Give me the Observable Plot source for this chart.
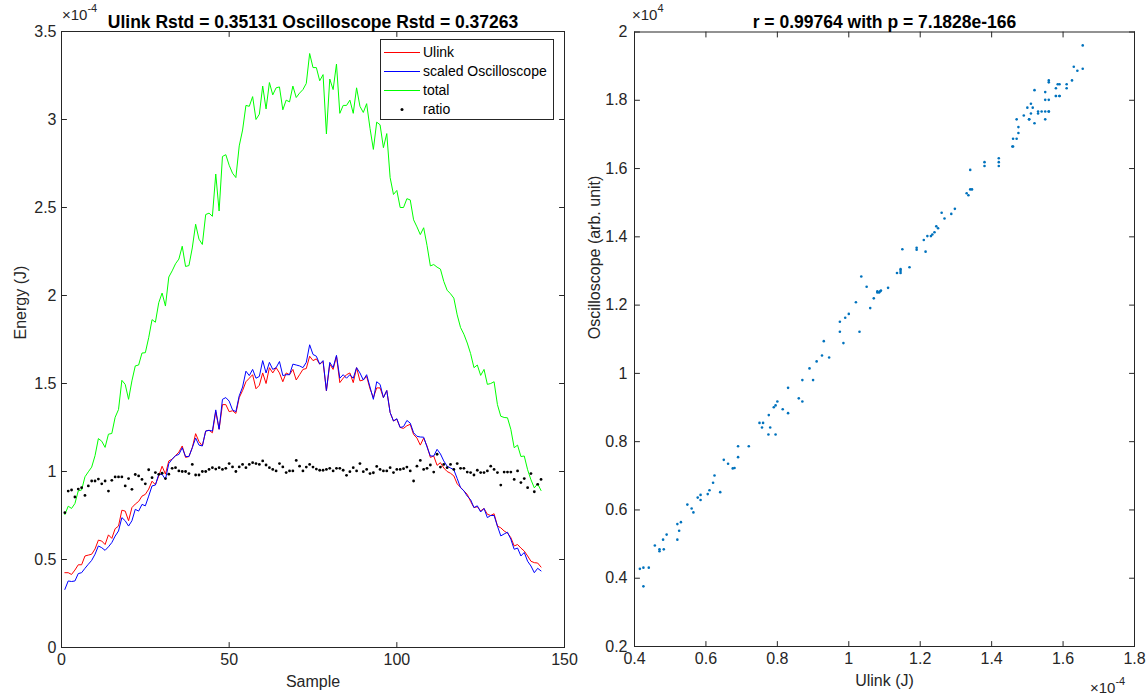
<!DOCTYPE html>
<html>
<head>
<meta charset="utf-8">
<script src="https://cdn.jsdelivr.net/npm/d3@7"></script>
<script src="https://cdn.jsdelivr.net/npm/@observablehq/plot@0.6"></script>
<style>
  body { margin: 0; background: #fff; }
  #wrap { position: relative; width: 1148px; height: 698px; background: #fff; font-family: "Liberation Sans", Arial, sans-serif; }
  #left { position: absolute; left: 0; top: 0; z-index: 2; }
  #right { position: absolute; left: 574px; top: 0; z-index: 1; }
  #legend { position: absolute; z-index: 3; left: 380px; top: 39px; width: 172px; height: 79px; border: 1px solid #262626; background: #fff; font-size: 14px; color: #000; }
  .lrow { position: absolute; left: 0; height: 19px; width: 170px; }
  .lrow svg { position: absolute; left: 2px; top: 0; }
  .lrow span { position: absolute; left: 42px; top: 1px; line-height: 17px; white-space: nowrap; }
  .exp { position: absolute; z-index: 3; font-size: 15px; line-height: 16px; color: #262626; white-space: nowrap; }
  .exp sup { font-size: 11px; position: relative; top: -2px; vertical-align: super; line-height: 0; }
</style>
</head>
<body>
<div id="wrap">
  <div id="left"></div>
  <div id="right"></div>
  <div id="legend"></div>
</div>
<script>
// ---------------- data (energies in units of 1e-4 J, oscilloscope in units of 1e4) ----------------
const ulink = [
0.425,0.425,0.415,0.44,0.47,0.47,0.52,0.525,0.53,0.56,
0.61,0.605,0.585,0.64,0.62,0.675,0.69,0.78,0.775,0.72,
0.795,0.815,0.83,0.86,0.87,0.90,0.945,0.925,0.975,1.03,
0.985,1.06,1.07,1.09,1.11,1.145,1.08,1.085,1.135,1.215,
1.17,1.145,1.23,1.234,1.22,1.34,1.24,1.38,1.38,1.34,
1.345,1.33,1.42,1.46,1.51,1.53,1.55,1.47,1.49,1.56,
1.50,1.59,1.56,1.59,1.56,1.51,1.56,1.55,1.58,1.52,
1.55,1.58,1.585,1.655,1.63,1.64,1.61,1.625,1.458,1.61,
1.58,1.655,1.505,1.53,1.55,1.56,1.505,1.59,1.515,1.52,
1.54,1.47,1.42,1.475,1.475,1.42,1.46,1.335,1.287,1.297,
1.25,1.245,1.26,1.268,1.21,1.19,1.15,1.19,1.145,1.08,
1.088,1.035,1.05,1.02,1.00,0.99,0.975,0.93,0.91,0.89,
0.87,0.83,0.795,0.80,0.776,0.79,0.757,0.75,0.76,0.69,
0.68,0.662,0.65,0.624,0.577,0.585,0.565,0.548,0.52,0.49,
0.482,0.48,0.457];

const scaledScope = [
0.33,0.378,0.375,0.378,0.42,0.425,0.45,0.473,0.495,0.53,
0.577,0.567,0.552,0.572,0.596,0.633,0.662,0.738,0.72,0.69,
0.72,0.785,0.775,0.813,0.805,0.86,0.918,0.923,0.984,0.984,
0.955,1.045,1.07,1.09,1.097,1.135,1.085,1.085,1.135,1.19,
1.15,1.145,1.23,1.234,1.23,1.35,1.24,1.41,1.42,1.40,
1.35,1.34,1.43,1.48,1.57,1.545,1.58,1.53,1.54,1.63,
1.56,1.62,1.58,1.59,1.625,1.545,1.55,1.55,1.61,1.605,
1.60,1.59,1.62,1.72,1.665,1.655,1.61,1.63,1.46,1.62,
1.59,1.66,1.53,1.55,1.53,1.55,1.53,1.59,1.56,1.52,
1.55,1.48,1.41,1.51,1.495,1.42,1.46,1.335,1.287,1.30,
1.25,1.255,1.29,1.275,1.22,1.20,1.196,1.195,1.14,1.088,
1.088,1.126,1.10,1.06,1.03,1.02,1.01,0.96,0.908,0.89,
0.86,0.84,0.795,0.805,0.77,0.79,0.738,0.75,0.75,0.69,
0.634,0.645,0.655,0.615,0.558,0.565,0.52,0.54,0.49,0.463,
0.425,0.45,0.435];

const total = [
0.755,0.803,0.79,0.818,0.89,0.895,0.97,0.998,1.025,1.09,
1.187,1.172,1.137,1.212,1.216,1.308,1.352,1.518,1.495,1.41,
1.515,1.60,1.605,1.673,1.675,1.76,1.863,1.848,1.959,2.014,
1.94,2.105,2.14,2.18,2.207,2.28,2.165,2.17,2.27,2.405,
2.32,2.29,2.46,2.468,2.45,2.69,2.48,2.79,2.80,2.74,
2.695,2.67,2.85,2.94,3.08,3.075,3.13,3.00,3.03,3.19,
3.06,3.21,3.14,3.18,3.185,3.055,3.11,3.10,3.19,3.125,
3.15,3.17,3.205,3.375,3.295,3.295,3.22,3.255,2.918,3.23,
3.17,3.315,3.035,3.08,3.08,3.11,3.035,3.18,3.075,3.04,
3.09,2.95,2.83,2.985,2.97,2.84,2.92,2.67,2.574,2.597,
2.50,2.50,2.55,2.543,2.43,2.39,2.346,2.385,2.285,2.168,
2.176,2.161,2.15,2.08,2.03,2.01,1.985,1.89,1.818,1.78,
1.73,1.67,1.59,1.605,1.546,1.58,1.495,1.50,1.51,1.38,
1.314,1.307,1.305,1.239,1.135,1.15,1.085,1.088,1.01,0.953,
0.907,0.93,0.892];

const ratio = [
0.766,0.889,0.895,0.855,0.90,0.908,0.864,0.918,0.946,0.946,
0.957,0.93,0.946,0.889,0.95,0.969,0.969,0.969,0.918,0.96,
0.899,0.983,0.975,0.955,0.93,1.01,0.965,0.994,0.984,0.99,
0.96,0.985,1.018,1.022,1.003,1.0,1.0,0.988,1.04,0.98,
0.98,1.0,1.0,1.012,1.022,1.014,1.022,1.012,1.018,1.045,
1.026,1.0,1.026,1.04,1.022,1.04,1.05,1.045,1.04,1.06,
1.037,1.022,1.012,1.003,1.045,1.026,0.994,1.003,1.003,1.063,
1.03,1.003,1.025,1.04,1.025,1.014,1.007,1.007,1.012,1.018,
1.003,1.018,1.018,1.007,0.978,0.999,1.022,1.003,1.045,0.999,
1.012,0.988,0.993,1.029,1.012,1.003,1.003,1.022,0.994,1.012,
1.012,1.016,1.025,1.003,0.946,1.03,1.063,1.012,1.018,1.037,
0.997,1.098,1.025,1.04,1.022,1.04,1.012,1.045,1.018,1.018,
0.997,0.994,0.98,1.007,0.994,0.994,1.003,1.03,1.012,0.994,
0.923,0.997,0.997,0.997,0.955,1.003,0.937,0.96,0.908,0.988,
0.885,0.927,0.955];

const oscScale = 1.14; // oscilloscope (1e4 arb. unit) per scaled unit

const seriesNames = ["Ulink", "scaled Oscilloscope", "total", "ratio"];
const seriesColors = ["#FF0000", "#0000FF", "#00FF00", "#000000"];

const leftTitle = "Ulink Rstd = 0.35131 Oscilloscope Rstd = 0.37263";
const rightTitle = "r = 0.99764 with p = 7.1828e-166";
const leftXLabel = "Sample", leftYLabel = "Energy (J)";
const rightXLabel = "Ulink (J)", rightYLabel = "Oscilloscope (arb. unit)";
const expLabels = [
  { base: "\u00d710", power: "-4", left: 62, top: 7 },     // left axes, y
  { base: "\u00d710", power: "4", left: 632, top: 7 },     // right axes, y
  { base: "\u00d710", power: "-4", left: 1090, top: 680 }  // right axes, x
];

const leftXTicks = [0, 50, 100, 150];
const leftYTicks = [0, 0.5, 1, 1.5, 2, 2.5, 3, 3.5];
const leftXTickLabels = ["0", "50", "100", "150"];
const leftYTickLabels = ["0", "0.5", "1", "1.5", "2", "2.5", "3", "3.5"];
const rightXTicks = [0.4, 0.6, 0.8, 1.0, 1.2, 1.4, 1.6, 1.8];
const rightXTickLabels = ["0.4", "0.6", "0.8", "1", "1.2", "1.4", "1.6", "1.8"];
const rightYTicks = [0.2, 0.4, 0.6, 0.8, 1.0, 1.2, 1.4, 1.6, 1.8, 2.0];
const rightYTickLabels = ["0.2", "0.4", "0.6", "0.8", "1", "1.2", "1.4", "1.6", "1.8", "2"];

// ---------------- build ----------------
const rows = ulink.map((u, i) => ({
  sample: i + 1, ulink: u, scope: scaledScope[i], total: total[i], ratio: ratio[i]
}));
const points = ulink.map((u, i) => ({ u, osc: scaledScope[i] * oscScale }));

const axisColor = "#262626";
const font = "'Liberation Sans', Arial, Helvetica, sans-serif";
const tickShape = { draw(ctx, l) { ctx.moveTo(0, 0); ctx.lineTo(0, -l); } };

function inwardTicks(xt, yt) {
  const o = { length: 5, anchor: "start", shape: tickShape, stroke: axisColor, strokeWidth: 1 };
  return [
    Plot.vector(xt, { x: d => d, frameAnchor: "bottom", rotate: 0, ...o }),
    Plot.vector(xt, { x: d => d, frameAnchor: "top", rotate: 180, ...o }),
    Plot.vector(yt, { y: d => d, frameAnchor: "left", rotate: 90, ...o }),
    Plot.vector(yt, { y: d => d, frameAnchor: "right", rotate: 270, ...o })
  ];
}
const fmt = (ticks, labels) => d => labels[ticks.indexOf(d)] ?? String(d);

const left = Plot.plot({
  width: 574, height: 698,
  marginLeft: 61, marginRight: 10, marginTop: 31, marginBottom: 51,
  style: { fontFamily: font, fontSize: "16px", color: axisColor, background: "transparent", overflow: "visible" },
  x: { domain: [0, 150] },
  y: { domain: [0, 3.5] },
  marks: [
    Plot.line(rows, { x: "sample", y: "ulink", stroke: seriesColors[0], strokeWidth: 1 }),
    Plot.line(rows, { x: "sample", y: "scope", stroke: seriesColors[1], strokeWidth: 1 }),
    Plot.line(rows, { x: "sample", y: "total", stroke: seriesColors[2], strokeWidth: 1 }),
    Plot.dot(rows, { x: "sample", y: "ratio", r: 1.4, fill: seriesColors[3], stroke: null }),
    Plot.frame({ stroke: axisColor }),
    ...inwardTicks(leftXTicks, leftYTicks),
    Plot.axisX({ ticks: leftXTicks, tickFormat: fmt(leftXTicks, leftXTickLabels), tickSize: 0, tickPadding: 6, label: null }),
    Plot.axisY({ ticks: leftYTicks, tickFormat: fmt(leftYTicks, leftYTickLabels), tickSize: 0, tickPadding: 5, label: null }),
    Plot.text([leftTitle], { text: d => d, frameAnchor: "top", dy: -16, fontWeight: "bold", fontSize: 17.5, fill: "#000" }),
    Plot.text([leftXLabel], { text: d => d, frameAnchor: "bottom", dy: 39, fontSize: 16, fill: axisColor }),
    Plot.text([leftYLabel], { text: d => d, frameAnchor: "left", dx: -41, rotate: -90, fontSize: 16, fill: axisColor })
  ]
});
document.getElementById("left").appendChild(left);

const right = Plot.plot({
  width: 574, height: 698,
  marginLeft: 60, marginRight: 14, marginTop: 31.5, marginBottom: 52,
  style: { fontFamily: font, fontSize: "16px", color: axisColor, background: "transparent", overflow: "visible" },
  x: { domain: [0.4, 1.8] },
  y: { domain: [0.2, 2.0] },
  marks: [
    Plot.dot(points, { x: "u", y: "osc", r: 1.3, fill: "#0072BD", stroke: null }),
    Plot.frame({ stroke: axisColor }),
    ...inwardTicks(rightXTicks, rightYTicks),
    Plot.axisX({ ticks: rightXTicks, tickFormat: fmt(rightXTicks, rightXTickLabels), tickSize: 0, tickPadding: 6, label: null }),
    Plot.axisY({ ticks: rightYTicks, tickFormat: fmt(rightYTicks, rightYTickLabels), tickSize: 0, tickPadding: 7, label: null }),
    Plot.text([rightTitle], { text: d => d, frameAnchor: "top", dy: -16, fontWeight: "bold", fontSize: 17.5, fill: "#000" }),
    Plot.text([rightXLabel], { text: d => d, frameAnchor: "bottom", dy: 39, fontSize: 16, fill: axisColor }),
    Plot.text([rightYLabel], { text: d => d, frameAnchor: "left", dx: -40, rotate: -90, fontSize: 16, fill: axisColor })
  ]
});
document.getElementById("right").appendChild(right);

// ---------------- exponent labels ----------------
const wrap = document.getElementById("wrap");
expLabels.forEach(e => {
  const d = document.createElement("div");
  d.className = "exp";
  d.style.left = e.left + "px";
  d.style.top = e.top + "px";
  d.innerHTML = `${e.base}<sup>${e.power}</sup>`;
  wrap.appendChild(d);
});

// ---------------- legend ----------------
const legend = document.getElementById("legend");
seriesNames.forEach((name, i) => {
  const row = document.createElement("div");
  row.className = "lrow";
  row.style.top = (3 + i * 19) + "px";
  const isDot = name === "ratio";
  row.innerHTML =
    `<svg width="38" height="19">` +
    (isDot
      ? `<circle cx="19" cy="9.5" r="1.5" fill="${seriesColors[i]}"/>`
      : `<line x1="1" x2="37" y1="9.5" y2="9.5" stroke="${seriesColors[i]}" stroke-width="1"/>`) +
    `</svg><span>${name}</span>`;
  legend.appendChild(row);
});
</script>
</body>
</html>
